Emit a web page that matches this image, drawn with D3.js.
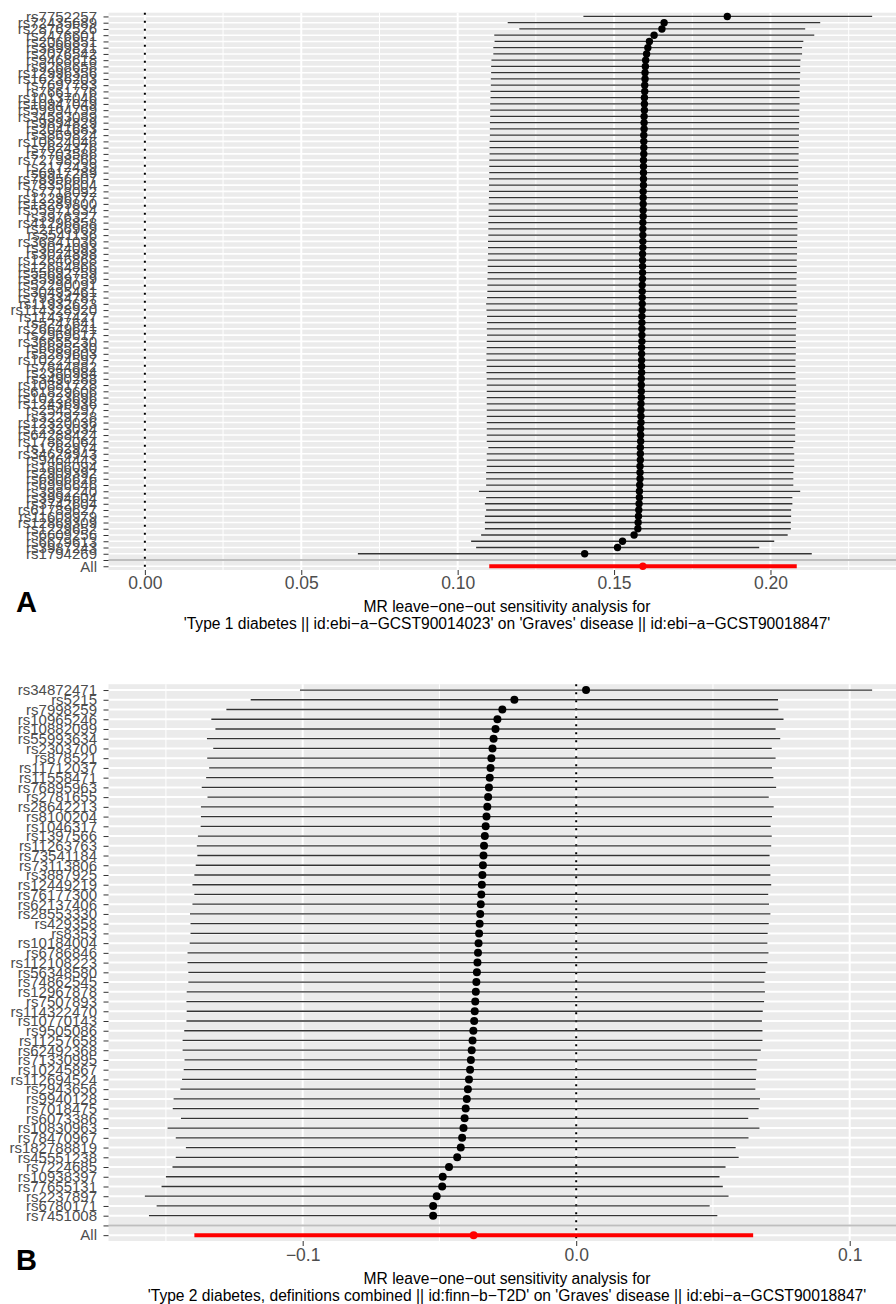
<!DOCTYPE html>
<html>
<head>
<meta charset="utf-8">
<script src="https://cdn.jsdelivr.net/npm/d3@7"></script>
<style>
  body { margin: 0; background: #fff; }
  svg { display: block; font-family: "Liberation Sans", Arial, Helvetica, sans-serif; }
</style>
</head>
<body>
<svg id="fig" width="896" height="1304"></svg>
<script>
// ---- Panel A: Type 1 diabetes -> Graves' disease, leave-one-out ----
const snpA = [
  "rs7752257","rs72435689","rs28762526","rs2476601","rs2066851","rs3899821","rs2076542","rs9468618","rs9268658","rs12996356",
  "rs16236203","rs7697783","rs7661776","rs10137046","rs10947049","rs59994799","rs34593089","rs9894829","rs2041683","rs3869824",
  "rs10624046","rs7624376","rs7703586","rs72798566","rs2172439","rs6917289","rs78956607","rs78356604","rs7718092","rs12296777",
  "rs13289800","rs55971834","rs3976327","rs41296858","rs2166969","rs3541136","rs36841036","rs3024093","rs3024898","rs12646868",
  "rs12684866","rs55692759","rs35999759","rs52290091","rs30495461","rs79334787","rs11932623","rs114328920","rs11437427","rs5247641",
  "rs26649641","rs2969617","rs36655230","rs6685530","rs5289603","rs10224597","rs7844882","rs2380984","rs3490288","rs10881728",
  "rs61829606","rs10223696","rs12436936","rs2545297","rs3229728","rs12320036","rs12323034","rs64288424","rs17862064","rs1762974",
  "rs34628943","rs9464443","rs1806094","rs2909392","rs6906626","rs6996646","rs3982240","rs3994604","rs3742604","rs61789627",
  "rs11609979","rs12869309","rs1229652","rs6609256","rs6679613","rs3987243","rs1794269"
];
const bA = [
  0.1862,0.1660,0.1653,0.1628,0.1613,0.1608,0.1604,0.1601,0.1600,0.1599,
  0.1599,0.1598,0.1598,0.1597,0.1597,0.1597,0.1596,0.1596,0.1596,0.1595,
  0.1595,0.1595,0.1595,0.1594,0.1594,0.1594,0.1594,0.1594,0.1593,0.1593,
  0.1593,0.1593,0.1593,0.1592,0.1592,0.1592,0.1592,0.1592,0.1591,0.1591,
  0.1591,0.1591,0.1591,0.1590,0.1590,0.1590,0.1590,0.1590,0.1589,0.1589,
  0.1589,0.1589,0.1589,0.1588,0.1588,0.1588,0.1588,0.1588,0.1587,0.1587,
  0.1587,0.1587,0.1586,0.1586,0.1586,0.1586,0.1585,0.1585,0.1585,0.1584,
  0.1584,0.1584,0.1583,0.1583,0.1583,0.1582,0.1581,0.1581,0.1580,0.1579,
  0.1578,0.1577,0.1576,0.1564,0.1527,0.1511,0.1406
];
const loA = [
  0.1402,0.1160,0.1197,0.1117,0.1118,0.1114,0.1114,0.1108,0.1107,0.1107,
  0.1106,0.1106,0.1105,0.1105,0.1104,0.1104,0.1104,0.1103,0.1103,0.1103,
  0.1102,0.1102,0.1102,0.1101,0.1101,0.1101,0.1100,0.1100,0.1100,0.1100,
  0.1099,0.1099,0.1099,0.1098,0.1098,0.1098,0.1097,0.1097,0.1097,0.1096,
  0.1096,0.1096,0.1095,0.1095,0.1095,0.1094,0.1091,0.1092,0.1094,0.1094,
  0.1093,0.1094,0.1093,0.1093,0.1092,0.1092,0.1093,0.1092,0.1093,0.1093,
  0.1093,0.1093,0.1093,0.1093,0.1093,0.1093,0.1093,0.1093,0.1093,0.1098,
  0.1093,0.1093,0.1093,0.1091,0.1091,0.1091,0.1068,0.1091,0.1087,0.1091,
  0.1087,0.1087,0.1087,0.1075,0.1043,0.1059,0.0681
];
const upA = [
  0.2325,0.2159,0.2111,0.2140,0.2105,0.2101,0.2101,0.2096,0.2095,0.2095,
  0.2094,0.2094,0.2093,0.2093,0.2093,0.2092,0.2092,0.2092,0.2091,0.2091,
  0.2091,0.2090,0.2090,0.2090,0.2089,0.2089,0.2089,0.2088,0.2088,0.2088,
  0.2087,0.2087,0.2087,0.2086,0.2086,0.2086,0.2085,0.2085,0.2085,0.2084,
  0.2084,0.2084,0.2083,0.2083,0.2083,0.2083,0.2086,0.2086,0.2082,0.2082,
  0.2082,0.2081,0.2081,0.2081,0.2081,0.2080,0.2080,0.2080,0.2080,0.2082,
  0.2082,0.2080,0.2080,0.2080,0.2080,0.2079,0.2079,0.2079,0.2079,0.2073,
  0.2076,0.2076,0.2076,0.2073,0.2073,0.2073,0.2095,0.2070,0.2070,0.2066,
  0.2066,0.2065,0.2065,0.2055,0.2012,0.1964,0.2132
];
const allA = [0.1592, 0.1101, 0.2084];          // b, lower, upper for "All"
const ticksA = [0, 0.05, 0.10, 0.15, 0.20];
const tickLabelsA = ["0.00", "0.05", "0.10", "0.15", "0.20"];
const minorA = [0.025, 0.075, 0.125, 0.175, 0.225];
const titleA = ["MR leave\u2212one\u2212out sensitivity analysis for",
  "'Type 1 diabetes || id:ebi\u2212a\u2212GCST90014023' on 'Graves' disease || id:ebi\u2212a\u2212GCST90018847'"];

// ---- Panel B: Type 2 diabetes -> Graves' disease, leave-one-out ----
const snpB = [
  "rs34872471","rs5215","rs7998259","rs10965246","rs10882099","rs55993634","rs2303700","rs878521","rs11712037","rs11558471",
  "rs76895963","rs2781655","rs28642213","rs8100204","rs1046317","rs1397566","rs11263763","rs73541184","rs73113806","rs3887925",
  "rs12449219","rs76177300","rs62137406","rs28553330","rs429358","rs8353","rs10184004","rs6786846","rs112108223","rs56348580",
  "rs74862545","rs12967878","rs7507893","rs114322470","rs10770143","rs9505086","rs11257658","rs62492368","rs71330995","rs10245867",
  "rs112694524","rs2943656","rs9940128","rs7018475","rs6073386","rs10830963","rs78470967","rs182788819","rs45551238","rs7224685",
  "rs10938397","rs77655131","rs2237897","rs6780171","rs7451008"
];
const bB = [
  0.0036,-0.0226,-0.0270,-0.0288,-0.0295,-0.0302,-0.0306,-0.0310,-0.0313,-0.0316,
  -0.0319,-0.0322,-0.0325,-0.0328,-0.0331,-0.0334,-0.0337,-0.0339,-0.0341,-0.0343,
  -0.0345,-0.0347,-0.0349,-0.0351,-0.0353,-0.0355,-0.0357,-0.0359,-0.0361,-0.0363,
  -0.0365,-0.0367,-0.0369,-0.0371,-0.0373,-0.0376,-0.0379,-0.0382,-0.0385,-0.0388,
  -0.0392,-0.0396,-0.0400,-0.0404,-0.0408,-0.0412,-0.0417,-0.0422,-0.0435,-0.0465,
  -0.0488,-0.0490,-0.0510,-0.0523,-0.0523
];
const loB = [
  -0.1010,-0.1190,-0.1279,-0.1334,-0.1319,-0.1350,-0.1327,-0.1349,-0.1342,-0.1353,
  -0.1369,-0.1348,-0.1372,-0.1372,-0.1373,-0.1383,-0.1387,-0.1385,-0.1391,-0.1396,
  -0.1403,-0.1396,-0.1403,-0.1412,-0.1410,-0.1410,-0.1413,-0.1421,-0.1421,-0.1418,
  -0.1418,-0.1424,-0.1425,-0.1424,-0.1425,-0.1433,-0.1439,-0.1439,-0.1432,-0.1435,
  -0.1441,-0.1447,-0.1472,-0.1475,-0.1445,-0.1494,-0.1464,-0.1427,-0.1464,-0.1476,
  -0.1500,-0.1516,-0.1577,-0.1534,-0.1562
];
const upB = [
  0.1082,0.0738,0.0739,0.0758,0.0729,0.0746,0.0715,0.0729,0.0716,0.0721,
  0.0731,0.0704,0.0722,0.0716,0.0711,0.0715,0.0713,0.0707,0.0709,0.0710,
  0.0713,0.0702,0.0705,0.0710,0.0704,0.0700,0.0699,0.0703,0.0699,0.0692,
  0.0688,0.0690,0.0687,0.0682,0.0679,0.0681,0.0681,0.0675,0.0662,0.0659,
  0.0657,0.0655,0.0672,0.0667,0.0629,0.0670,0.0630,0.0583,0.0594,0.0546,
  0.0524,0.0536,0.0557,0.0488,0.0516
];
const allB = [-0.0375, -0.1396, 0.0647];
const ticksB = [-0.1, 0, 0.1];
const tickLabelsB = ["\u22120.1", "0.0", "0.1"];
const minorB = [-0.15, -0.05, 0.05];
const titleB = ["MR leave\u2212one\u2212out sensitivity analysis for",
  "'Type 2 diabetes, definitions combined || id:finn\u2212b\u2212T2D' on 'Graves' disease || id:ebi\u2212a\u2212GCST90018847'"];

const svg = d3.select("#fig");
const PANEL_L = 108.5, PANEL_R = 908.5;
const TEXT_GREY = "#4D4D4D", TICK_GREY = "#333333", BG = "#EBEBEB";

function drawPanel(cfg) {
  const levels = [...cfg.snps, "", "All"];
  const ext = d3.extent([0, ...cfg.lo, ...cfg.up, cfg.all[1], cfg.all[2]]);
  const pad = (ext[1] - ext[0]) * 0.05;
  const x = d3.scaleLinear().domain([ext[0] - pad, ext[1] + pad]).range([PANEL_L, PANEL_R]);
  const y = d3.scalePoint().domain(levels).range([cfg.top, cfg.bottom]).padding(0.6);

  const g = svg.append("g");
  g.append("rect")
    .attr("x", PANEL_L).attr("y", cfg.top)
    .attr("width", PANEL_R - PANEL_L).attr("height", cfg.bottom - cfg.top)
    .attr("fill", BG);

  // grid
  g.append("g").selectAll("line").data(cfg.minor).join("line")
    .attr("x1", d => x(d)).attr("x2", d => x(d))
    .attr("y1", cfg.top).attr("y2", cfg.bottom)
    .attr("stroke", "#fff").attr("stroke-width", 1);
  g.append("g").selectAll("line").data(cfg.ticks).join("line")
    .attr("x1", d => x(d)).attr("x2", d => x(d))
    .attr("y1", cfg.top).attr("y2", cfg.bottom)
    .attr("stroke", "#fff").attr("stroke-width", 2);
  g.append("g").selectAll("line").data(levels).join("line")
    .attr("x1", PANEL_L).attr("x2", PANEL_R)
    .attr("y1", d => y(d)).attr("y2", d => y(d))
    .attr("stroke", "#fff").attr("stroke-width", cfg.gridW);

  // null effect
  g.append("line")
    .attr("x1", x(0)).attr("x2", x(0))
    .attr("y1", cfg.top).attr("y2", cfg.bottom)
    .attr("stroke", "#000").attr("stroke-width", 2)
    .attr("stroke-dasharray", "2,6");

  // separator between single-SNP rows and the overall estimate
  g.append("line")
    .attr("x1", PANEL_L).attr("x2", PANEL_R)
    .attr("y1", y("")).attr("y2", y(""))
    .attr("stroke", "#BEBEBE").attr("stroke-width", 2);

  const rows = cfg.snps.map((s, i) => ({ snp: s, b: cfg.b[i], lo: cfg.lo[i], up: cfg.up[i] }));

  g.append("g").selectAll("line").data(rows).join("line")
    .attr("x1", d => x(d.lo)).attr("x2", d => x(d.up))
    .attr("y1", d => y(d.snp)).attr("y2", d => y(d.snp))
    .attr("stroke", "#333").attr("stroke-width", 1.3);
  g.append("g").selectAll("circle").data(rows).join("circle")
    .attr("cx", d => x(d.b)).attr("cy", d => y(d.snp))
    .attr("r", cfg.r).attr("fill", "#000");

  g.append("line")
    .attr("x1", x(cfg.all[1])).attr("x2", x(cfg.all[2]))
    .attr("y1", y("All")).attr("y2", y("All"))
    .attr("stroke", "#FF0000").attr("stroke-width", 4);
  g.append("circle")
    .attr("cx", x(cfg.all[0])).attr("cy", y("All"))
    .attr("r", cfg.r).attr("fill", "#FF0000");

  // axes
  const ax = g.append("g").attr("transform", `translate(0,${cfg.bottom})`)
    .call(d3.axisBottom(x).tickValues(cfg.ticks).tickFormat((d, i) => cfg.tickLabels[i])
      .tickSize(5).tickPadding(cfg.xPad));
  ax.select(".domain").remove();
  ax.selectAll(".tick line").attr("stroke", TICK_GREY).attr("stroke-width", 1);
  ax.selectAll(".tick text").attr("fill", TEXT_GREY).attr("font-size", 17.5)
    .attr("font-family", "Liberation Sans, Arial, sans-serif");

  const ay = g.append("g").attr("transform", `translate(${PANEL_L},0)`)
    .call(d3.axisLeft(y).tickSize(5).tickPadding(6.5));
  ay.select(".domain").remove();
  ay.selectAll(".tick line").attr("stroke", TICK_GREY).attr("stroke-width", 1);
  ay.selectAll(".tick text").attr("fill", TEXT_GREY).attr("font-size", 15)
    .attr("font-family", "Liberation Sans, Arial, sans-serif");

  // axis title (two lines)
  const cx = 507;
  g.append("text").attr("x", cx).attr("y", cfg.titleY)
    .attr("text-anchor", "middle").attr("font-size", 15.6).attr("fill", "#000")
    .selectAll("tspan").data(cfg.title).join("tspan")
    .attr("x", cx).attr("dy", (d, i) => i ? 17 : 0).text(d => d);

  // panel tag
  g.append("text").attr("x", 16).attr("y", cfg.tagY)
    .attr("font-size", 29).attr("font-weight", "bold").attr("fill", "#000")
    .attr("font-family", "Liberation Sans, Arial, sans-serif")
    .text(cfg.tag);
}

drawPanel({ snps: snpA, b: bA, lo: loA, up: upA, all: allA,
  ticks: ticksA, tickLabels: tickLabelsA, minor: minorA,
  top: 12.7, bottom: 570, gridW: 1.6, r: 3.7, xPad: 2,
  title: titleA, titleY: 611.5, tag: "A", tagY: 612 });

drawPanel({ snps: snpB, b: bB, lo: loB, up: upB, all: allB,
  ticks: ticksB, tickLabels: tickLabelsB, minor: minorB,
  top: 684.2, bottom: 1241, gridW: 2, r: 4, xPad: 3,
  title: titleB, titleY: 1283.5, tag: "B", tagY: 1270 });
</script>
</body>
</html>
